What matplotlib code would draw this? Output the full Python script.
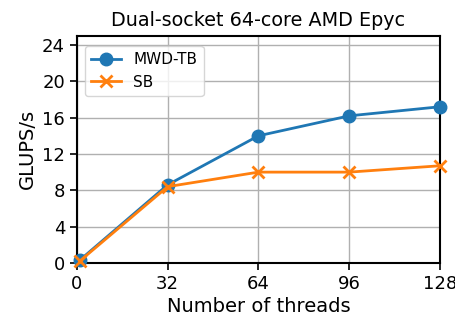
import matplotlib
matplotlib.use("Agg")
import matplotlib.pyplot as plt

threads = [1, 32, 64, 96, 128]
mwd_tb = [0.3, 8.6, 14.0, 16.2, 17.2]
sb = [0.2, 8.4, 10.0, 10.0, 10.7]
xticks = [0, 32, 64, 96, 128]
yticks = [0, 4, 8, 12, 16, 20, 24]

fig, ax = plt.subplots(figsize=(4.55, 3.21), dpi=100)
ax.plot(threads, mwd_tb, marker='o', markersize=9, lw=2, color='#1f77b4', label='MWD-TB', clip_on=False, zorder=3)
ax.plot(threads, sb, marker='x', markersize=9, mew=2, lw=2, color='#ff7f0e', label='SB', clip_on=False, zorder=3)
ax.set_xlim(0, 128)
ax.set_ylim(0, 25)
ax.set_xticks(xticks)
ax.set_yticks(yticks)
ax.tick_params(labelsize=13, width=1.2, length=5)
ax.grid(True, color='#b0b0b0', lw=1)
ax.set_axisbelow(True)
for s in ax.spines.values():
    s.set_linewidth(1.5)
ax.set_xlabel('Number of threads', fontsize=14, labelpad=3)
ax.set_ylabel('GLUPS/s', fontsize=14)
ax.set_title('Dual-socket 64-core AMD Epyc', fontsize=13.8, pad=7)
ax.legend(loc='upper left', fontsize=11, bbox_to_anchor=(0.0, 0.99), handlelength=2.0)
fig.subplots_adjust(left=0.169, right=0.967, top=0.888, bottom=0.181)
fig.savefig('out.png', dpi=100)
